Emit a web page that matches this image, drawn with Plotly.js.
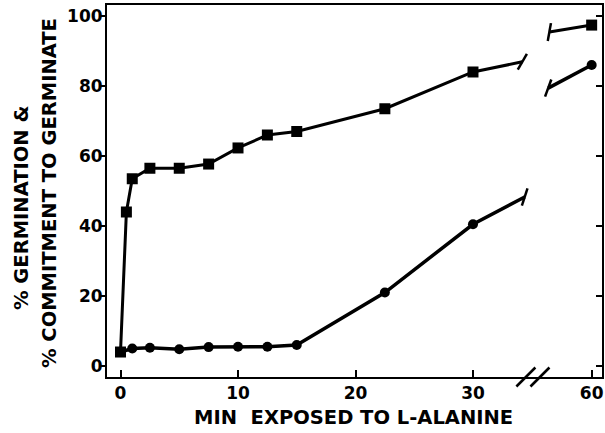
<!DOCTYPE html>
<html>
<head>
<meta charset="utf-8">
<script src="https://cdn.plot.ly/plotly-3.0.1.min.js"></script>
<style>html,body{margin:0;padding:0;background:#fff;}#chart{width:605px;height:433px;}</style>
</head>
<body>
<div id="chart"></div>
<script>
// Data (x in minutes, y in %)
const sqX = [0, 0.5, 1, 2.5, 5, 7.5, 10, 12.5, 15, 22.5, 30, 60];
const sqY = [4, 44, 53.5, 56.5, 56.5, 57.7, 62.3, 66, 67, 73.5, 84, 97.4];
const ciX = [0, 1, 2.5, 5, 7.5, 10, 12.5, 15, 22.5, 30, 60];
const ciY = [4, 5, 5.2, 4.8, 5.4, 5.5, 5.5, 6, 21, 40.5, 86];
// line stubs on each side of the axis break (x in minutes)
const sqBreakBefore = [34.2, 86.9];
const sqBreakAfter = [56.4, 95.4];
const ciBreakBefore = [34.4, 48.3];
const ciBreakAfter = [56.3, 79.4];
const tickVals = [0, 10, 20, 30, 60];
const tickText = ['0', '10', '20', '30', '60'];
const yTicks = [0, 20, 40, 60, 80, 100];
// "//" break symbol on the x axis (axis units, inside the gap)
const axisBreakX = [34.5, 35.7];

// broken axis: minutes beyond the break are shifted left
const BREAK_SHIFT = 19.9;
const vx = x => (x > 35 ? x - BREAK_SHIFT : x);
const Y_RANGE = [-3.14, 103.14];

const FONT = 'DejaVu Sans, Verdana, sans-serif';

function lineTrace(X, Y, before, after, w) {
  const n = X.length;
  const xs = X.slice(0, n - 1).map(vx).concat([vx(before[0]), null, vx(after[0]), vx(X[n - 1])]);
  const ys = Y.slice(0, n - 1).concat([before[1], null, after[1], Y[n - 1]]);
  return {x: xs, y: ys, mode: 'lines', line: {color: '#000', width: w}, connectgaps: false,
          hoverinfo: 'skip', showlegend: false};
}

const traces = [
  lineTrace(sqX, sqY, sqBreakBefore, sqBreakAfter, 3),
  lineTrace(ciX, ciY, ciBreakBefore, ciBreakAfter, 3.5),
  {x: sqX.map(vx), y: sqY, mode: 'markers', marker: {symbol: 'square', size: 11, color: '#000'}, showlegend: false},
  {x: ciX.map(vx), y: ciY, mode: 'markers', marker: {symbol: 'circle', size: 10, color: '#000'}, showlegend: false},
  // flicks marking the cut ends of the lines
  {x: [sqBreakBefore, sqBreakAfter, ciBreakBefore, ciBreakAfter].map(p => vx(p[0])),
   y: [sqBreakBefore, sqBreakAfter, ciBreakBefore, ciBreakAfter].map(p => p[1]),
   mode: 'markers', cliponaxis: false, showlegend: false, hoverinfo: 'skip',
   marker: {symbol: 'line-ns', size: 13, angle: [30, 10, 18, 20], line: {color: '#000', width: 2.5}}},
  // "//" axis break on the x axis
  {x: axisBreakX, y: axisBreakX.map(() => Y_RANGE[0]), mode: 'markers', cliponaxis: false,
   showlegend: false, hoverinfo: 'skip',
   marker: {symbol: 'line-ne-open', size: 19, color: '#000', line: {color: '#000', width: 2.5}}},
  // invisible trace for the right-hand tick axis
  {x: [0], y: [0], yaxis: 'y2', mode: 'markers', marker: {opacity: 0}, showlegend: false, hoverinfo: 'skip'}
];

const layout = {
  width: 605, height: 433,
  margin: {l: 107, r: 3, t: 5, b: 56},
  paper_bgcolor: '#fff', plot_bgcolor: '#fff',
  font: {family: FONT, color: '#000', size: 17, weight: 'bold'},
  xaxis: {
    range: [-1.15, 40.98], showgrid: false, zeroline: false,
    showline: true, linecolor: '#000', linewidth: 2, mirror: true,
    tickvals: tickVals.map(vx), ticktext: tickText,
    ticks: 'inside', ticklen: 7, tickwidth: 2, tickcolor: '#000',
    tickfont: {family: FONT, size: 17, weight: 'bold', color: '#000'}
  },
  yaxis: {
    range: Y_RANGE, showgrid: false, zeroline: false,
    showline: true, linecolor: '#000', linewidth: 2, mirror: true,
    tickvals: yTicks, ticks: 'outside', ticklen: 5, tickwidth: 2, tickcolor: '#000',
    ticklabelstandoff: -6,
    tickfont: {family: FONT, size: 17, weight: 'bold', color: '#000'}
  },
  yaxis2: {
    overlaying: 'y', side: 'right', range: Y_RANGE, showgrid: false, zeroline: false,
    showline: false, tickvals: yTicks, ticks: 'inside', ticklen: 6, tickwidth: 2, tickcolor: '#000',
    showticklabels: false
  },
  annotations: [
    {text: '% GERMINATION &', xref: 'paper', yref: 'paper', x: (22 - 107) / 495, y: (377 - 208) / 372,
     textangle: -90, showarrow: false, xanchor: 'center', yanchor: 'middle',
     font: {family: FONT, size: 19.5, weight: 'bold', color: '#000'}},
    {text: '% COMMITMENT TO GERMINATE', xref: 'paper', yref: 'paper', x: (49.5 - 107) / 495, y: (377 - 193.5) / 372,
     textangle: -90, showarrow: false, xanchor: 'center', yanchor: 'middle',
     font: {family: FONT, size: 19.5, weight: 'bold', color: '#000'}},
    {text: 'MIN&nbsp; EXPOSED TO L-ALANINE', xref: 'paper', yref: 'paper', x: (353 - 107) / 495, y: (377 - 418) / 372,
     showarrow: false, xanchor: 'center', yanchor: 'middle',
     font: {family: FONT, size: 19.5, weight: 'bold', color: '#000'}}
  ]
};

Plotly.newPlot('chart', traces, layout, {staticPlot: true, displayModeBar: false});
</script>
</body>
</html>
